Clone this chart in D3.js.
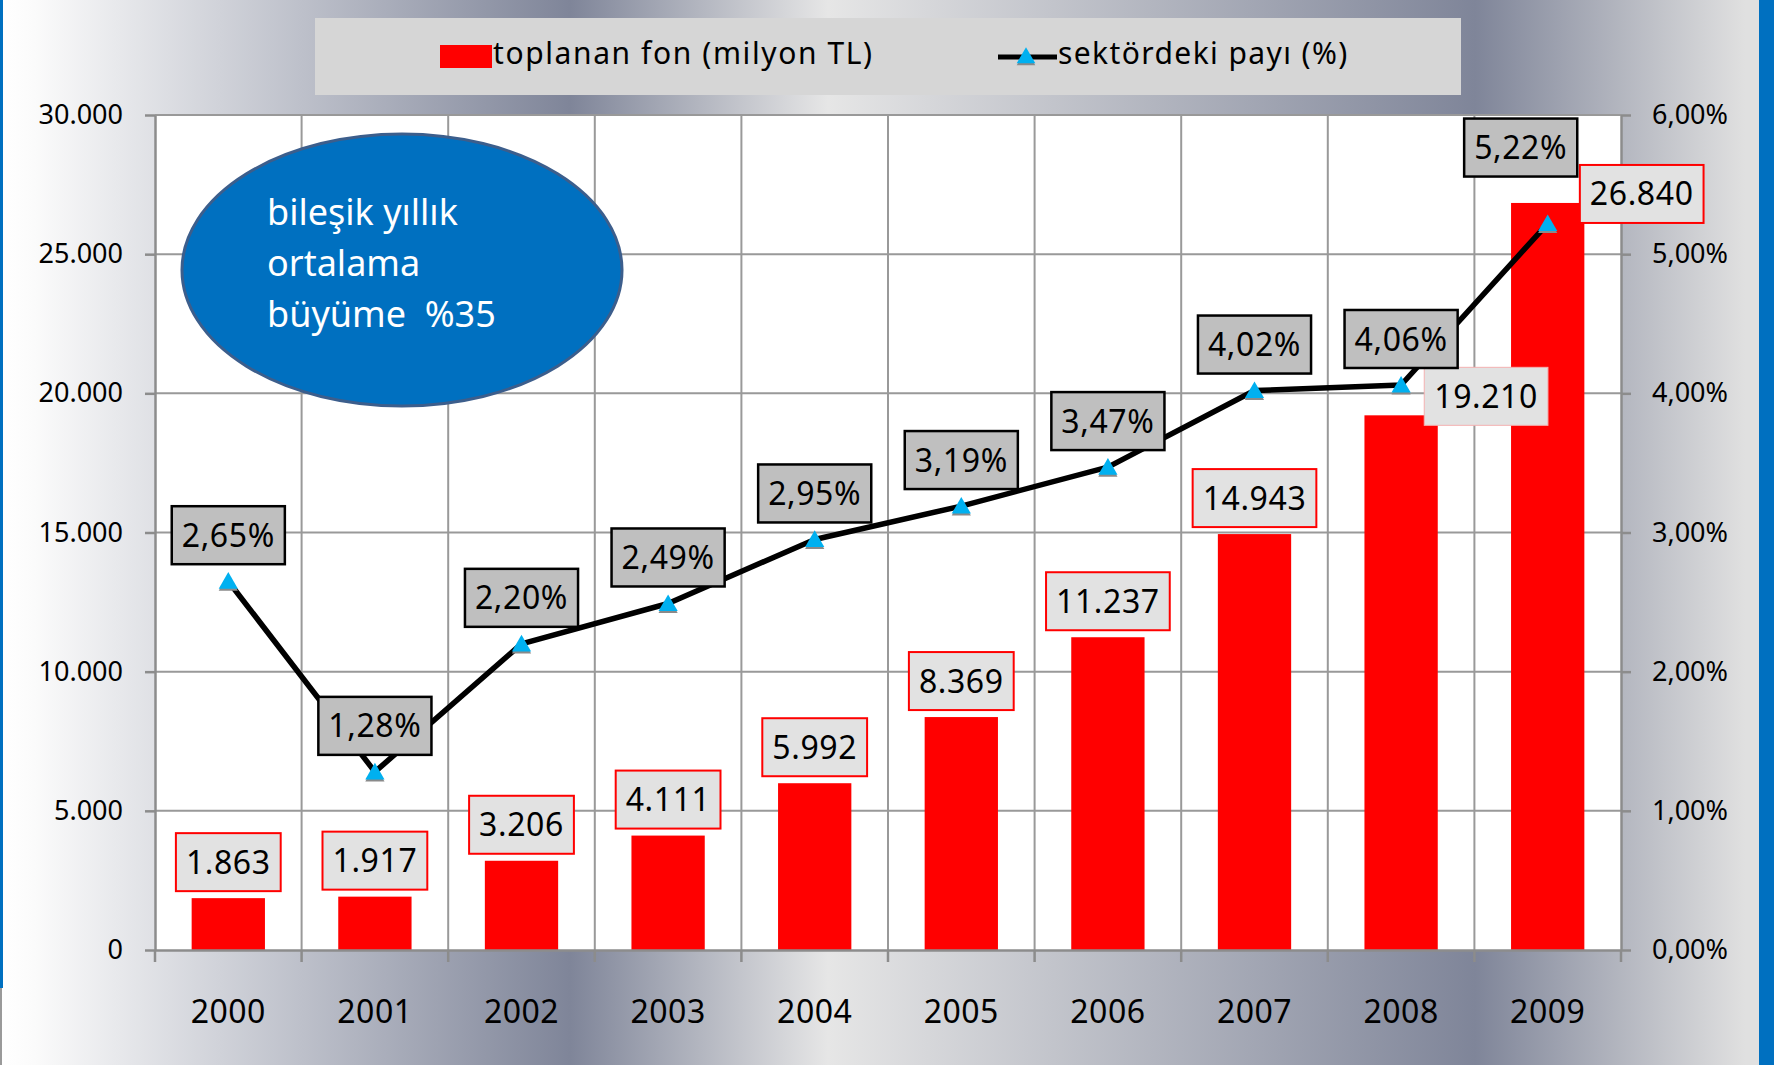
<!DOCTYPE html>
<html>
<head>
<meta charset="utf-8">
<script src="https://cdn.jsdelivr.net/npm/d3@7"></script>
<style>
  html, body { margin: 0; padding: 0; background: #fff; }
  svg { display: block; font-family: "Noto Sans", "Open Sans", sans-serif; }
</style>
</head>
<body>
<svg id="chart" width="1774" height="1065"></svg>
<script>
// ---- data ----
const years = ["2000","2001","2002","2003","2004","2005","2006","2007","2008","2009"];
const funds = [1863, 1917, 3206, 4111, 5992, 8369, 11237, 14943, 19210, 26840];
const shares = [2.65, 1.28, 2.20, 2.49, 2.95, 3.19, 3.47, 4.02, 4.06, 5.22];
const leftTicks = [0, 5000, 10000, 15000, 20000, 25000, 30000];
const rightTicks = [0, 1, 2, 3, 4, 5, 6];
const seriesNames = ["toplanan fon (milyon TL)", "sektördeki payı (%)"];
const noteLines = ["bileşik yıllık", "ortalama", "büyüme  %35"];

// ---- layout ----
const W = 1774, H = 1065;
const M = { left: 155, right: 1621, top: 115, bottom: 950 };
const barLabelNudge = { "2008": [85, 17], "2009": [94, 27] };
const lineLabelNudge = { "2009": [-27, -30] };

const loc = d3.formatLocale({ decimal: ",", thousands: ".", grouping: [3], currency: ["", ""] });
const fmtInt = loc.format(",d");
const fmtPct = v => loc.format(".2f")(v) + "%";

const svg = d3.select("#chart");
const defs = svg.append("defs");

// background gradient
const bg = defs.append("linearGradient").attr("id", "bgGrad")
  .attr("gradientUnits", "userSpaceOnUse").attr("x1", 0).attr("x2", W).attr("y1", 0).attr("y2", 0);
[[0, "#ffffff"], [34, "#fbfbfb"], [570, "#7f8599"], [828, "#e6e6e6"], [1475, "#7f8599"], [1745, "#e0e0e0"], [1774, "#e0e0e0"]]
  .forEach(([o, c]) => bg.append("stop").attr("offset", o / W).attr("stop-color", c));

svg.append("rect").attr("width", W).attr("height", H).attr("fill", "url(#bgGrad)");
svg.append("rect").attr("x", 0).attr("y", 0).attr("width", 3).attr("height", 988).attr("fill", "#0070c0");
svg.append("rect").attr("x", 0).attr("y", 988).attr("width", 2).attr("height", H - 988).attr("fill", "#9a9a9a");
svg.append("rect").attr("x", 1759).attr("y", 0).attr("width", 15).attr("height", H).attr("fill", "#0070c0");

// scales
const x = d3.scaleBand().domain(years).range([M.left, M.right]).paddingInner(0).paddingOuter(0);
const yL = d3.scaleLinear().domain([0, 30000]).range([M.bottom, M.top]);
const yR = d3.scaleLinear().domain([0, 6]).range([M.bottom, M.top]);
const step = x.step();
const cx = d => x(d) + step / 2;

// legend
const lg = svg.append("g");
lg.append("rect").attr("x", 315).attr("y", 18).attr("width", 1146).attr("height", 77).attr("fill", "#d6d6d6");
lg.append("rect").attr("x", 440).attr("y", 45).attr("width", 52).attr("height", 23).attr("fill", "#ff0000");
lg.append("text").attr("x", 493).attr("y", 64).attr("font-size", 30).attr("letter-spacing", 1.6)
  .attr("fill", "#000").text(seriesNames[0]);
lg.append("line").attr("x1", 998).attr("x2", 1057).attr("y1", 57).attr("y2", 57)
  .attr("stroke", "#000").attr("stroke-width", 5);
lg.append("path").attr("d", d3.symbol(d3.symbolTriangle, 150)()).attr("transform", "translate(1026,60)").attr("fill", "#8a8a8a");
lg.append("path").attr("d", d3.symbol(d3.symbolTriangle, 150)()).attr("transform", "translate(1026,58)").attr("fill", "#00b0f0");
lg.append("text").attr("x", 1058).attr("y", 64).attr("font-size", 30).attr("letter-spacing", 1.4)
  .attr("fill", "#000").text(seriesNames[1]);

// plot area
svg.append("rect").attr("x", M.left).attr("y", M.top).attr("width", M.right - M.left).attr("height", M.bottom - M.top).attr("fill", "#fff");

const gridColor = "#999999";
// horizontal gridlines
svg.append("g").selectAll("line").data(leftTicks.filter(t => t > 0)).join("line")
  .attr("x1", M.left).attr("x2", M.right).attr("y1", d => yL(d)).attr("y2", d => yL(d))
  .attr("stroke", gridColor).attr("stroke-width", 2);
// vertical gridlines at category boundaries
svg.append("g").selectAll("line").data(years.slice(1)).join("line")
  .attr("x1", d => x(d)).attr("x2", d => x(d)).attr("y1", M.top).attr("y2", M.bottom)
  .attr("stroke", gridColor).attr("stroke-width", 2);

// bars
svg.append("g").selectAll("rect").data(years).join("rect")
  .attr("x", d => x(d) + step * 0.25).attr("width", step * 0.5)
  .attr("y", (d, i) => yL(funds[i])).attr("height", (d, i) => M.bottom - yL(funds[i]))
  .attr("fill", "#ff0000");

// axes
const axisColor = "#8c8c8c";
const styleAxis = g => {
  g.selectAll(".domain").attr("stroke", axisColor).attr("stroke-width", 2.5);
  g.selectAll(".tick line").attr("stroke", axisColor).attr("stroke-width", 2.5);
  g.selectAll("text").attr("fill", "#000").attr("font-size", 27).attr("font-family", "Noto Sans, sans-serif");
};
svg.append("g").attr("transform", `translate(${M.left},0)`)
  .call(d3.axisLeft(yL).tickValues(leftTicks).tickFormat(fmtInt).tickSize(10).tickSizeOuter(0).tickPadding(22))
  .call(styleAxis);
svg.append("g").attr("transform", `translate(${M.right},0)`)
  .call(d3.axisRight(yR).tickValues(rightTicks).tickFormat(fmtPct).tickSize(10).tickSizeOuter(0).tickPadding(21))
  .call(styleAxis);
const xAxis = svg.append("g").attr("transform", `translate(0,${M.bottom})`)
  .call(d3.axisBottom(x).tickSize(0).tickSizeOuter(0))
  .call(styleAxis);
xAxis.selectAll("text").attr("font-size", 32).attr("y", 50).attr("letter-spacing", 0.5);
// category boundary ticks
svg.append("g").selectAll("line").data(d3.range(years.length + 1)).join("line")
  .attr("x1", i => M.left + i * step).attr("x2", i => M.left + i * step)
  .attr("y1", M.bottom).attr("y2", M.bottom + 12)
  .attr("stroke", axisColor).attr("stroke-width", 2.5);

// ellipse note
const note = svg.append("g");
note.append("ellipse").attr("cx", 402).attr("cy", 270).attr("rx", 220).attr("ry", 136)
  .attr("fill", "#0070c0").attr("stroke", "#3c5e8c").attr("stroke-width", 3);
note.selectAll("text").data(noteLines).join("text")
  .attr("x", 267).attr("y", (d, i) => 225 + i * 51)
  .attr("font-size", 36).attr("fill", "#fff").style("white-space", "pre").text(d => d);

// line
const line = d3.line().x(d => cx(d.year)).y(d => yR(d.v));
const pts = years.map((y, i) => ({ year: y, v: shares[i] }));
svg.append("path").datum(pts).attr("d", line).attr("fill", "none")
  .attr("stroke", "#000").attr("stroke-width", 5.5).attr("stroke-linejoin", "round");
const tri = d3.symbol(d3.symbolTriangle, 160)();
svg.append("g").selectAll("path").data(pts).join("path")
  .attr("d", tri).attr("transform", d => `translate(${cx(d.year)},${yR(d.v) + 4})`).attr("fill", "#8a8a8a");
svg.append("g").selectAll("path").data(pts).join("path")
  .attr("d", tri).attr("transform", d => `translate(${cx(d.year)},${yR(d.v) + 2})`).attr("fill", "#00b0f0");

// labels helper
function labelBox(g, text, centerX, bottomY, fill, stroke, sw) {
  const grp = g.append("g");
  const r = grp.append("rect");
  const t = grp.append("text").attr("font-size", 32).attr("fill", "#000").attr("text-anchor", "middle")
    .attr("letter-spacing", 0.6)
    .attr("x", centerX).attr("y", bottomY - 29).attr("dy", "0.36em").text(text);
  const tw = t.node().getComputedTextLength();
  const bw = tw + 20, bh = 58;
  r.attr("x", centerX - bw / 2).attr("y", bottomY - bh).attr("width", bw).attr("height", bh)
    .attr("fill", fill).attr("stroke", stroke).attr("stroke-width", sw);
}

// bar labels
const bl = svg.append("g");
years.forEach((y, i) => {
  const n = barLabelNudge[y] || [0, 0];
  labelBox(bl, fmtInt(funds[i]), cx(y) + n[0], yL(funds[i]) - 7 + n[1], "#e2e2e2",
    y === "2008" ? "#f3b0b0" : "#ff0000", y === "2008" ? 1 : 2);
});
// line labels
const ll = svg.append("g");
years.forEach((y, i) => {
  const n = lineLabelNudge[y] || [0, 0];
  labelBox(ll, fmtPct(shares[i]), cx(y) + n[0], yR(shares[i]) - 17 + n[1], "#bfbfbf", "#000", 2.5);
});
</script>
</body>
</html>
